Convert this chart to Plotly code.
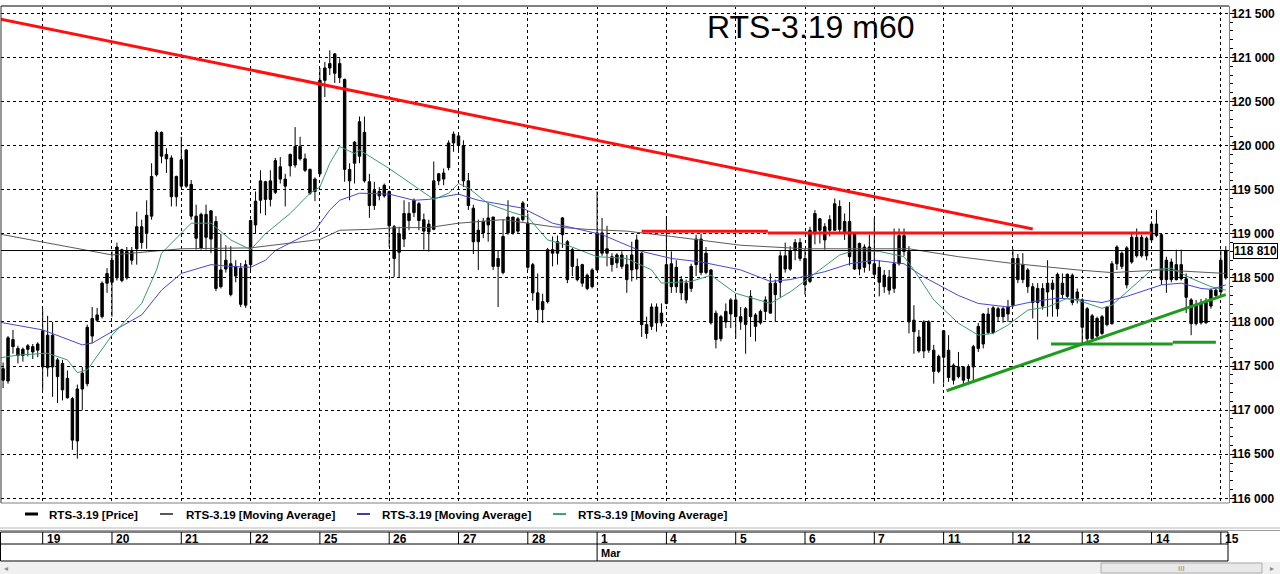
import plotly.graph_objects as go

# RTS-3.19, hourly bars, 18 Feb - 15 Mar 2019
day_labels = ["19", "20", "21", "22", "25", "26", "27", "28", "1",
              "4", "5", "6", "7", "11", "12", "13", "14", "15"]
month_labels = {"1": "Mar"}
lead_bars = 8        # bars of 18 Feb still visible at the left edge
bars_per_day = 14

opens = [
    117470, 117330, 117800, 117700, 117620, 117690, 117720, 117680,
    117900, 117480, 117850, 117570, 117530, 117360, 117130, 116650, 117240, 117300, 117840, 118020, 118060, 118440,
    118450, 118500, 118820, 118500, 118800, 118830, 119080, 119010, 119200, 119670, 120150, 119900, 119860, 119420,
    119540, 119950, 119560, 119200, 118840, 119220, 118940, 119140, 118400, 118600, 118660, 118520, 118610, 118190,
    118650, 119100, 119380, 119590, 119390, 119470, 119760, 119620, 119770, 119780, 119990, 119850, 119730, 119480,
    119680, 120740, 120880, 120820, 120930, 120750, 119730, 119800, 119880, 120150, 119590, 119320, 119480, 119430,
    119480, 119080, 118790, 118940, 119230, 119240, 119340, 119160, 119020, 119050, 119600, 119690, 119750, 120030,
    120110, 120000, 119600, 119290, 118910, 119010, 119100, 119190, 118630, 118560, 119010, 119190, 119030, 119160,
    119120, 118650, 118330, 118140, 118230, 118820, 118780, 118990, 118910, 118630, 118630, 118440, 118530, 118400,
    118590, 119010, 118780, 118740, 118670, 118760, 118650, 118590, 118600, 118780, 117970, 117950, 118170, 117990,
    118210, 118660, 118400, 118480, 118440, 118380, 118650, 118940, 118560, 118590, 118100, 117810, 118120, 118090,
    118250, 118060, 117970, 118060, 118080, 117990, 118120, 118100, 118440, 118450, 118750, 118600, 118810, 118900,
    118720, 118460, 119000, 119170, 119080, 119040, 119040, 119310, 119010, 119140, 118600, 118890, 118620, 118850,
    118660, 118620, 118530, 118360, 118380, 118660, 118980, 118800, 118020, 117830, 117670, 118000, 117680, 117440,
    117600, 117680, 117510, 117380, 117490, 117360, 117490, 117700, 117750, 118090, 117880, 118150, 118060, 118090,
    118190, 118720, 118480, 118590, 118400, 118220, 118380, 118340, 118440, 118150, 118440, 118290, 118530, 118270,
    118250, 118150, 117810, 118040, 117870, 118170, 117980, 118660, 118780, 118840, 118680, 118960, 118750, 118950,
    118930, 119110, 118990, 118480, 118680, 118480, 118650, 118490, 118250, 117980, 118200, 117990, 118180, 118360,
    118340, 118500,
]
highs = [
    117540, 117840, 117910, 117730, 117710, 117750, 117750, 117770,
    118150, 118070, 118000, 117590, 117570, 117450, 117150, 117290, 117490, 117970, 118170, 118160, 118460, 118610,
    118800, 118900, 118830, 118850, 118850, 119250, 119160, 119380, 119800, 120170, 120160, 119970, 119890, 119660,
    120100, 119960, 119610, 119330, 119240, 119330, 119270, 119200, 119000, 118870, 118860, 118700, 118670, 118700,
    119160, 119480, 119720, 119600, 119720, 119860, 119870, 119680, 119910, 120210, 120100, 119910, 119740, 119640,
    120880, 120950, 121080, 121050, 120990, 120760, 119800, 120050, 120330, 120330, 119680, 119590, 119530, 119570,
    119490, 119100, 119080, 119380, 119360, 119400, 119360, 119230, 119160, 119820, 119690, 119740, 120060, 120160,
    120140, 120060, 119690, 119330, 119160, 119180, 119350, 119190, 118810, 119160, 119380, 119190, 119190, 119370,
    119230, 118670, 118550, 118320, 118840, 118970, 118980, 119190, 118930, 118840, 118720, 118660, 118550, 118610,
    119480, 119180, 119090, 118780, 118780, 118800, 118760, 118910, 118990, 118790, 118060, 118210, 118210, 118210,
    119190, 118800, 118700, 118520, 118480, 118660, 118990, 119000, 118850, 118600, 118130, 118080, 118210, 118270,
    118290, 118170, 118170, 118360, 118100, 118140, 118290, 118550, 118480, 118800, 118900, 118860, 118940, 118950,
    118830, 119080, 119270, 119180, 119120, 119210, 119400, 119380, 119230, 119360, 119010, 118900, 118880, 118990,
    119180, 118700, 118590, 118590, 119060, 119060, 119060, 118860, 118190, 117910, 118020, 118020, 117740, 117630,
    117910, 117850, 117530, 117660, 117500, 117520, 117740, 117990, 118100, 118160, 118180, 118170, 118170, 118250,
    118830, 118770, 118780, 118610, 118440, 118440, 118440, 118700, 118480, 118560, 118550, 118550, 118550, 118380,
    118270, 118170, 118090, 118060, 118080, 118180, 118690, 118870, 118800, 118860, 119000, 119060, 118990, 118970,
    119140, 119270, 119000, 118740, 118720, 118820, 118820, 118550, 118270, 118250, 118260, 118270, 118380, 118390,
    118820, 118860,
]
lows = [
    117250, 117300, 117640, 117530, 117550, 117610, 117580, 117600,
    117230, 117380, 117150, 117080, 117110, 117130, 116550, 116450, 117000, 117270, 117760, 118000, 118040, 118330,
    118060, 118470, 118450, 118480, 118650, 118650, 118830, 118830, 119160, 119650, 119800, 119690, 119310, 119310,
    119520, 119520, 119160, 118820, 118820, 118820, 118780, 118350, 118380, 118560, 118290, 118450, 118170, 118160,
    118580, 119000, 119230, 119210, 119310, 119450, 119570, 119310, 119650, 119750, 119830, 119700, 119440, 119370,
    119660, 120550, 120800, 120710, 120710, 119590, 119380, 119570, 119800, 119580, 119180, 119270, 119380, 119410,
    118850, 118510, 118500, 118850, 119040, 119190, 119040, 118820, 118800, 119040, 119550, 119550, 119720, 119930,
    119930, 119530, 119270, 118770, 118590, 118950, 118910, 118590, 118170, 118540, 118990, 118990, 119010, 119140,
    118590, 118240, 117990, 117990, 118210, 118630, 118650, 118840, 118440, 118520, 118460, 118400, 118360, 118380,
    118580, 118750, 118630, 118570, 118610, 118600, 118330, 118460, 118480, 117830, 117810, 117910, 117890, 117950,
    118200, 118330, 118330, 118250, 118210, 118340, 118520, 118530, 118540, 117970, 117700, 117780, 117930, 117930,
    117810, 117910, 117640, 117830, 117780, 117970, 118020, 118100, 118000, 118280, 118560, 118580, 118700, 118690,
    118310, 118440, 118880, 118890, 118820, 118970, 119040, 119000, 118930, 118640, 118590, 118530, 118560, 118580,
    118500, 118290, 118330, 118310, 118330, 118640, 118750, 117870, 117640, 117650, 117590, 117650, 117300, 117420,
    117300, 117320, 117290, 117360, 117300, 117320, 117340, 117660, 117700, 117860, 117860, 118000, 117990, 118000,
    118170, 118440, 118440, 118330, 118040, 117800, 118140, 118060, 118060, 118060, 118270, 118270, 118190, 118210,
    117760, 117780, 117780, 117800, 117850, 117950, 117970, 118590, 118600, 118380, 118660, 118730, 118730, 118700,
    118900, 118960, 118420, 118330, 118450, 118470, 118470, 118100, 117850, 117960, 117970, 117980, 118150, 118270,
    118290, 118480,
]
closes = [
    117340, 117820, 117720, 117620, 117690, 117730, 117660, 117750,
    117490, 117850, 117490, 117380, 117230, 117140, 116660, 117240, 117420, 117940, 118040, 118080, 118440, 118550,
    118700, 118850, 118470, 118800, 118700, 119080, 118900, 119210, 119650, 120150, 119880, 119850, 119420, 119650,
    119840, 119540, 119200, 118950, 119220, 118960, 119260, 118380, 118590, 118700, 118310, 118630, 118200, 118650,
    119150, 119370, 119600, 119390, 119600, 119830, 119620, 119540, 119900, 119990, 119850, 119720, 119460, 119620,
    120740, 120880, 120930, 121040, 120770, 119730, 119600, 120040, 120270, 119600, 119320, 119490, 119430, 119550,
    119090, 118720, 119000, 119230, 119150, 119380, 119150, 119030, 119110, 119600, 119680, 119620, 120030, 120130,
    120000, 119600, 119320, 118910, 119040, 119140, 119180, 118630, 118720, 118970, 119190, 119010, 119170, 119350,
    118620, 118330, 118140, 118230, 118820, 118780, 118910, 119180, 118480, 118820, 118480, 118650, 118380, 118590,
    119010, 118780, 118830, 118650, 118760, 118630, 118480, 118760, 118930, 117970, 117870, 118170, 117990, 118100,
    118650, 118400, 118620, 118330, 118250, 118630, 118940, 118560, 118780, 117990, 117800, 118060, 118000, 118250,
    118060, 118000, 118150, 118290, 117950, 118120, 118250, 118440, 118310, 118750, 118600, 118810, 118900, 118720,
    118420, 119040, 119230, 119040, 118930, 119160, 119340, 119050, 119140, 118740, 119000, 118600, 118850, 118660,
    118540, 118450, 118400, 118510, 118660, 118980, 118800, 118000, 117890, 117670, 118000, 117680, 117440, 117610,
    117900, 117370, 117340, 117490, 117340, 117490, 117720, 117950, 118090, 117880, 118160, 118060, 118150, 118170,
    118720, 118480, 118650, 118400, 118220, 118380, 118180, 118440, 118370, 118540, 118310, 118540, 118220, 118340,
    117940, 117810, 118070, 117840, 118060, 117970, 118660, 118850, 118630, 118420, 118960, 118750, 118960, 118750,
    119110, 118980, 118480, 118700, 118480, 118650, 118490, 118280, 117980, 118200, 117990, 118240, 118360, 118300,
    118700, 118810,
]

# three moving averages (bar index, price)
ma_long_x = [-1, 22, 36, 50, 64, 68, 74, 80, 86, 92, 101, 111, 118, 126, 135, 149, 162, 175, 183,
             193, 203, 217, 224, 234, 247]
ma_long_y = [119000, 118760, 118830, 118840, 118935, 119040, 119050, 119070, 119070, 119120, 119160,
             119080, 119050, 119030, 118970, 118870, 118830, 118830, 118830, 118740, 118670, 118590,
             118560, 118590, 118550]
ma_mid_x = [-1, 8, 16, 18, 22, 28, 32, 36, 42, 46, 50, 53, 55, 63, 66, 68, 72, 78, 83, 86, 92, 96,
            105, 111, 121, 129, 135, 141, 149, 155, 159, 166, 171, 176, 182, 186, 191, 193, 197,
            203, 208, 213, 218, 222, 227, 234, 238, 242, 244, 247]
ma_mid_y = [118000, 117910, 117740, 117760, 117890, 118080, 118360, 118550, 118650, 118630, 118620,
            118700, 118810, 119040, 119270, 119380, 119460, 119450, 119380, 119390, 119450, 119380,
            119290, 119120, 118990, 118800, 118720, 118680, 118590, 118460, 118480, 118570,
            118660, 118700, 118660, 118510, 118360, 118300, 118210, 118170, 118230, 118270, 118250,
            118220, 118290, 118420, 118440, 118380, 118370, 118420]
ma_short_x = [-1, 3, 9, 13, 15, 17, 22, 28, 31, 32, 38, 42, 46, 50, 53, 58, 62, 64, 66, 68, 71, 72,
              78, 84, 87, 90, 92, 94, 98, 103, 106, 110, 114, 120, 126, 131, 133, 139, 143, 148, 155,
              159, 164, 169, 172, 177, 182, 184, 188, 193, 197, 200, 203, 207, 211, 215, 218, 222,
              224, 229, 232, 236, 240, 244, 247]
ma_short_y = [117590, 117625, 117645, 117570, 117425, 117455, 117850, 118210, 118590, 118780, 119120,
              119120, 118930, 118820, 119000, 119230, 119460, 119530, 119800, 119990, 119910, 119950,
              119740, 119500, 119390, 119460, 119570, 119520, 119340, 119240, 119190, 118930, 118870,
              118740, 118720, 118590, 118440, 118460, 118530, 118325, 118210, 118340, 118550, 118760,
              118810, 118800, 118740, 118590, 118250, 117985, 117850, 117870, 117965, 118135, 118170,
              118270, 118230, 118155, 118190, 118440, 118590, 118610, 118495, 118400, 118360]

# hand-drawn trend lines: (x0, x1) in bars, (y0, y1) in price
red_lines = [((-0.6, 208), (121435, 119055)),
             ((129, 154.5), (119030, 119030)),
             ((154.5, 232), (119010, 119010))]
green_lines = [((190.6, 247), (117220, 118310)),
               ((211.7, 236.3), (117750, 117750)),
               ((236.3, 245), (117770, 117770))]

legend_items = [("RTS-3.19 [Price]", "#000000", 3),
                ("RTS-3.19 [Moving Average]", "#202020", 1.5),
                ("RTS-3.19 [Moving Average]", "#00007f", 1.5),
                ("RTS-3.19 [Moving Average]", "#007f5f", 1.5)]

last_price = closes[-1]
n_bars = len(closes)
bar_x = list(range(n_bars))
day_starts = [lead_bars + k * bars_per_day for k in range(len(day_labels))]

# page geometry (pixels)
W, H = 1280, 574
PL, PR, PT, PB = 1, 1229, 6, 503


def fx(px):
    return (px - PL) / (PR - PL)


def fy(py):
    return (PB - py) / (PB - PT)


FONT = "Liberation Sans, Arial, sans-serif"

fig = go.Figure()

fig.add_trace(go.Candlestick(
    x=bar_x, open=opens, high=highs, low=lows, close=closes,
    increasing=dict(line=dict(color="black", width=1), fillcolor="black"),
    decreasing=dict(line=dict(color="black", width=1), fillcolor="black"),
    whiskerwidth=0, hoverinfo="skip", showlegend=False))

for xs, ys, col in [(ma_long_x, ma_long_y, "#5a5a5a"),
                    (ma_mid_x, ma_mid_y, "#4848d0"),
                    (ma_short_x, ma_short_y, "#3a9a72")]:
    fig.add_trace(go.Scatter(x=xs, y=ys, mode="lines", line=dict(color=col, width=1),
                             hoverinfo="skip", showlegend=False))

shapes = []
for (x0, x1), (y0, y1) in red_lines:
    shapes.append(dict(type="line", xref="x", yref="y", x0=x0, x1=x1, y0=y0, y1=y1,
                       line=dict(color="#ff1010", width=3)))
for (x0, x1), (y0, y1) in green_lines:
    shapes.append(dict(type="line", xref="x", yref="y", x0=x0, x1=x1, y0=y0, y1=y1,
                       line=dict(color="#1e9a1e", width=3)))

# last price line
shapes.append(dict(type="line", xref="paper", yref="y", x0=0, x1=1, y0=last_price, y1=last_price,
                   line=dict(color="black", width=1)))

# plot frame
shapes += [
    dict(type="line", xref="paper", yref="paper", x0=0, x1=1, y0=1, y1=1, line=dict(color="#808080", width=2)),
    dict(type="line", xref="paper", yref="paper", x0=0, x1=1, y0=0, y1=0, line=dict(color="#808080", width=1)),
    dict(type="line", xref="paper", yref="paper", x0=0, x1=0, y0=0, y1=1, line=dict(color="#303030", width=1)),
]

# legend strip
annotations = []
leg_pos = [(25, 47), (160, 184), (357, 380), (553, 576)]
for (label, col, lw), (lx, tx) in zip(legend_items, leg_pos):
    shapes.append(dict(type="line", xref="paper", yref="paper", x0=fx(lx), x1=fx(lx + 13),
                       y0=fy(514), y1=fy(514), line=dict(color=col, width=lw)))
    annotations.append(dict(xref="paper", yref="paper", x=fx(tx), y=fy(514), text=label,
                            showarrow=False, xanchor="left", yanchor="middle",
                            font=dict(family=FONT, size=11.6, color="black", weight="bold")))

# separator bars between legend and time scale
shapes += [
    dict(type="line", xref="paper", yref="paper", x0=fx(0), x1=fx(W), y0=fy(528), y1=fy(528),
         line=dict(color="#b8b8b8", width=1)),
    dict(type="line", xref="paper", yref="paper", x0=fx(0), x1=fx(W), y0=fy(530.5), y1=fy(530.5),
         line=dict(color="#a0a0a0", width=1)),
]

# time scale panel
shapes += [
    dict(type="rect", xref="paper", yref="paper", x0=fx(0.5), x1=fx(1228), y0=fy(532), y1=fy(561),
         line=dict(color="black", width=1)),
    dict(type="line", xref="paper", yref="paper", x0=fx(0.5), x1=fx(1228), y0=fy(544), y1=fy(544),
         line=dict(color="black", width=1)),
]
for lab, d in zip(day_labels, day_starts):
    shapes.append(dict(type="line", xref="x", yref="paper", x0=d, x1=d, y0=fy(532), y1=fy(544),
                       line=dict(color="black", width=1)))
    annotations.append(dict(xref="x", yref="paper", x=d, y=fy(538.5), text=lab, showarrow=False,
                            xanchor="left", yanchor="middle", xshift=2,
                            font=dict(family=FONT, size=12, color="black", weight="bold")))
    if lab in month_labels:
        shapes.append(dict(type="line", xref="x", yref="paper", x0=d, x1=d, y0=fy(544), y1=fy(561),
                           line=dict(color="black", width=1)))
        annotations.append(dict(xref="x", yref="paper", x=d, y=fy(553), text=month_labels[lab],
                                showarrow=False, xanchor="left", yanchor="middle", xshift=2,
                                font=dict(family=FONT, size=11, color="black", weight="bold")))

# scroll bar
shapes += [
    dict(type="rect", xref="paper", yref="paper", x0=fx(0), x1=fx(W), y0=fy(562), y1=fy(574),
         line=dict(width=0), fillcolor="#f0f0f0"),
    dict(type="rect", xref="paper", yref="paper", x0=fx(1101), x1=fx(1262), y0=fy(563), y1=fy(573),
         line=dict(color="#acacac", width=1), fillcolor="#e8e8e8"),
]
for txt, xpos in [("\u25c2", 6), ("III", 1181), ("\u25b8", 1272)]:
    annotations.append(dict(xref="paper", yref="paper", x=fx(xpos), y=fy(568), text=txt,
                            showarrow=False, xanchor="center", yanchor="middle",
                            font=dict(family=FONT, size=8, color="#8a8a8a")))

# title and last-price badge
annotations.append(dict(xref="paper", yref="paper", x=fx(811), y=fy(27), text="RTS-3.19 m60",
                        showarrow=False, xanchor="center", yanchor="middle",
                        font=dict(family=FONT, size=32, color="black")))
annotations.append(dict(xref="paper", yref="y", x=1, y=last_price, text="118 810", showarrow=False,
                        xanchor="left", yanchor="middle", xshift=4, bgcolor="white",
                        bordercolor="black", borderwidth=1, borderpad=0,
                        font=dict(family=FONT, size=12, color="black", weight="bold")))

fig.update_layout(
    width=W, height=H,
    margin=dict(l=PL, r=W - PR, t=PT, b=H - PB),
    paper_bgcolor="white", plot_bgcolor="white",
    separators=". ",
    showlegend=False,
    shapes=shapes, annotations=annotations,
    xaxis=dict(range=[-0.42, 247.65], tickvals=day_starts, showticklabels=False, ticks="",
               showgrid=True, gridcolor="black", gridwidth=1, griddash="3px,3px",
               zeroline=False, showline=False, rangeslider=dict(visible=False),
               fixedrange=True, automargin=False),
    yaxis=dict(range=[115947, 121583], side="right", dtick=500, tick0=0, tickformat=",d",
               showgrid=True, gridcolor="black", gridwidth=1, griddash="3px,3px",
               ticks="outside", ticklen=5, tickcolor="black", ticklabelstandoff=-6,
               minor=dict(dtick=100, ticks="outside", ticklen=3, tickcolor="black", showgrid=False),
               showline=True, linecolor="#808080", linewidth=1, zeroline=False, automargin=False,
               tickfont=dict(family=FONT, size=12, color="black", weight="bold"), fixedrange=True),
)

fig.write_html("out.html", config={"displayModeBar": False},
               post_script="document.body.style.margin='0';")
